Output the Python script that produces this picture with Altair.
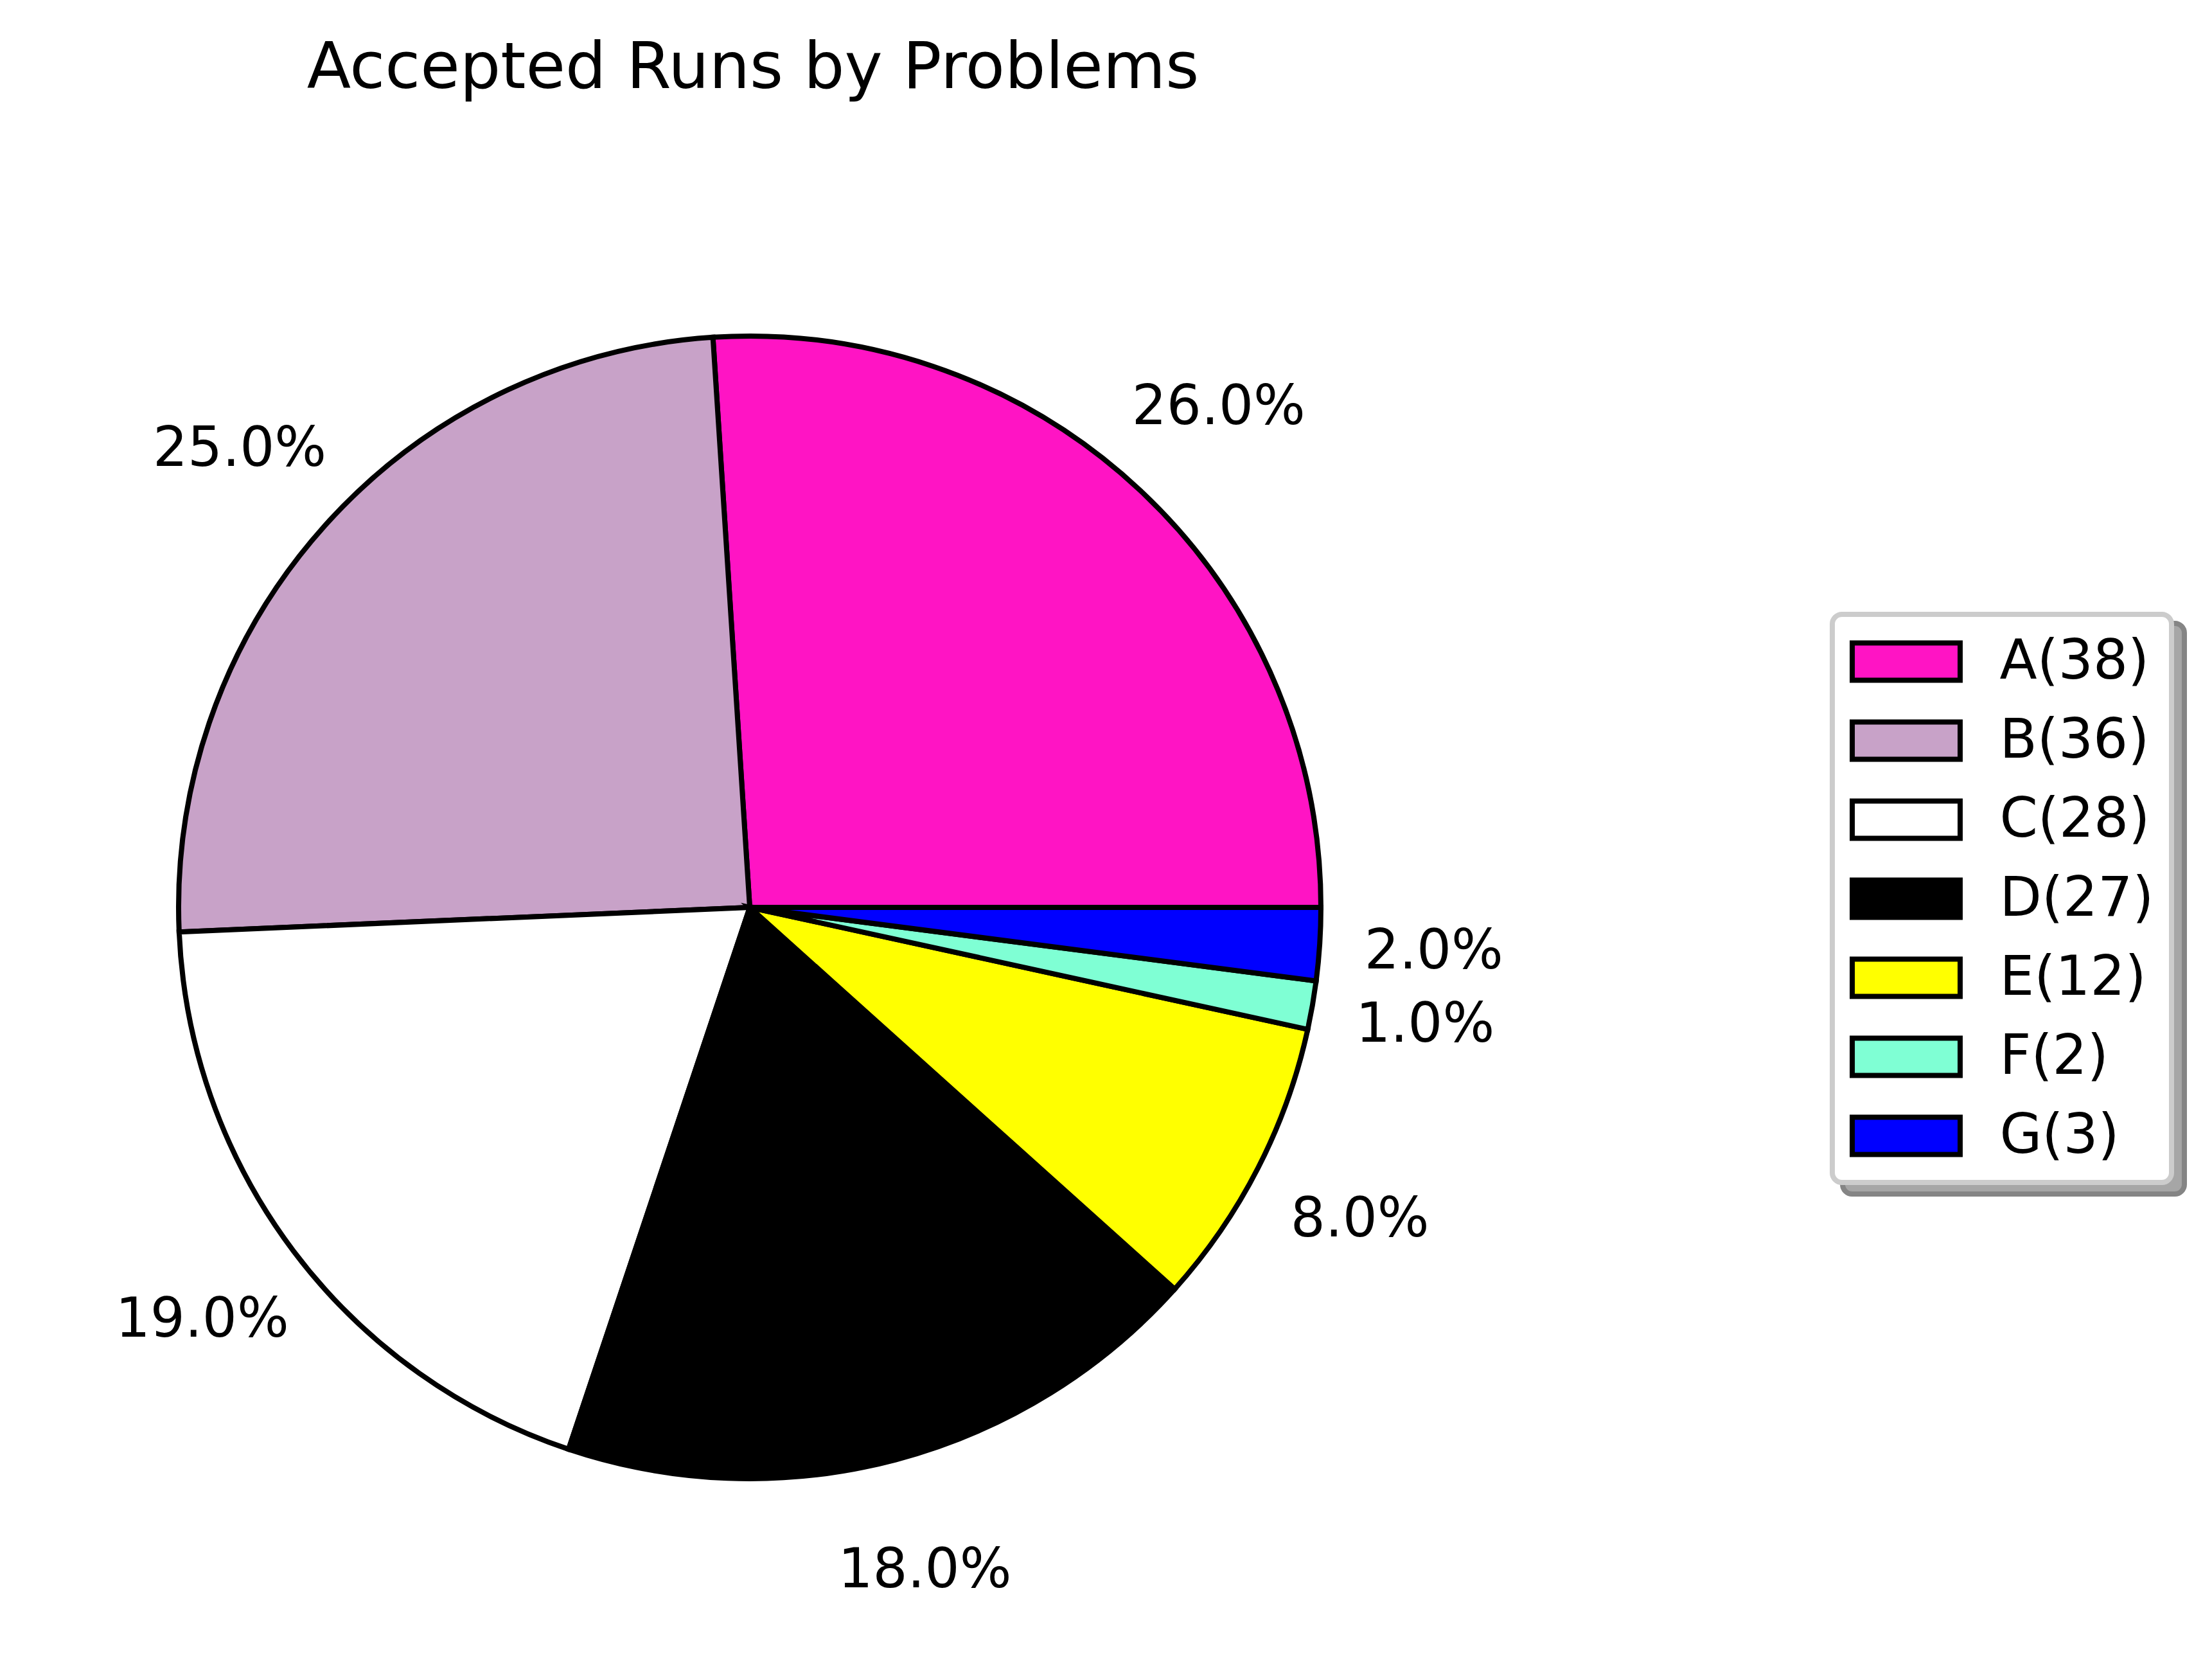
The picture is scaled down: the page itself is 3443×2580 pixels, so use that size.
import math
import altair as alt
import pandas as pd

# ---- data ----
problems = ["A", "B", "C", "D", "E", "F", "G"]
counts = [38, 36, 28, 27, 12, 2, 3]
colors = ["#FF14C4", "#C8A2C8", "#FFFFFF", "#000000", "#FFFF00", "#7FFFD4", "#0000FF"]
title_text = "Accepted Runs by Problems"

total = sum(counts)
legend_labels = [f"{p}({c})" for p, c in zip(problems, counts)]
pct_labels = [f"{round(c / total * 100):.1f}%" for c in counts]

df = pd.DataFrame({
    "problem": problems,
    "count": counts,
    "idx": list(range(len(problems))),
    "legend": legend_labels,
    "pct": pct_labels,
})

# ---- layout (pixels, view coordinates) ----
W, H = 3427, 2564
CX, CY = 1159, 1404
R = 889
LABEL_R = 1067
FONT = "DejaVu Sans"

theta = alt.Theta("count:Q", stack=True,
                  scale=alt.Scale(range=[math.pi / 2, math.pi / 2 + 2 * math.pi]))
order = alt.Order("idx:Q", sort="descending")

pie = alt.Chart(df).mark_arc(
    outerRadius=R, stroke="black", strokeWidth=8, strokeJoin="miter"
).encode(
    theta=theta,
    order=order,
    color=alt.Color(
        "legend:N",
        scale=alt.Scale(domain=legend_labels, range=colors),
        legend=alt.Legend(
            title=None,
            orient="none",
            legendX=2844,
            legendY=948,
            symbolType="M-1.976,-0.682H1.976V0.682H-1.976Z",
            symbolSize=7225,
            symbolOffset=41.5,
            symbolStrokeColor="black",
            symbolStrokeWidth=8,
            symbolOpacity=1,
            labelFontSize=85,
            labelFont=FONT,
            labelColor="black",
            labelOffset=99,
            labelLimit=1000,
            rowPadding=31,
            padding=27,
            fillColor="white",
            strokeColor="#cccccc",
            cornerRadius=15,
        ),
    ),
    x=alt.value(CX),
    y=alt.value(CY),
)

labels = alt.Chart(df).mark_text(
    radius=LABEL_R, fontSize=85, font=FONT, color="black",
    align="center", baseline="middle"
).encode(
    theta=theta,
    order=order,
    text="pct:N",
    x=alt.value(CX),
    y=alt.value(CY),
)

one = pd.DataFrame({"t": [title_text]})

shadow = alt.Chart(one).mark_rect(
    fill="#a6a6a6", stroke="#858585", strokeWidth=8, cornerRadius=15
).encode(
    x=alt.value(2860), x2=alt.value(3392), y=alt.value(962), y2=alt.value(1850)
)

title = alt.Chart(one).mark_text(
    fontSize=100, font=FONT, color="black", align="center", baseline="alphabetic"
).encode(
    text="t:N", x=alt.value(1164), y=alt.value(129)
)

chart = alt.layer(shadow, pie, labels, title).properties(
    width=W, height=H,
    autosize=alt.AutoSizeParams(type="none"),
    padding=0,
    background="white",
).configure_view(strokeWidth=0).configure_legend(strokeWidth=8)

chart.save("out.html", embed_options={"renderer": "svg", "actions": False})
